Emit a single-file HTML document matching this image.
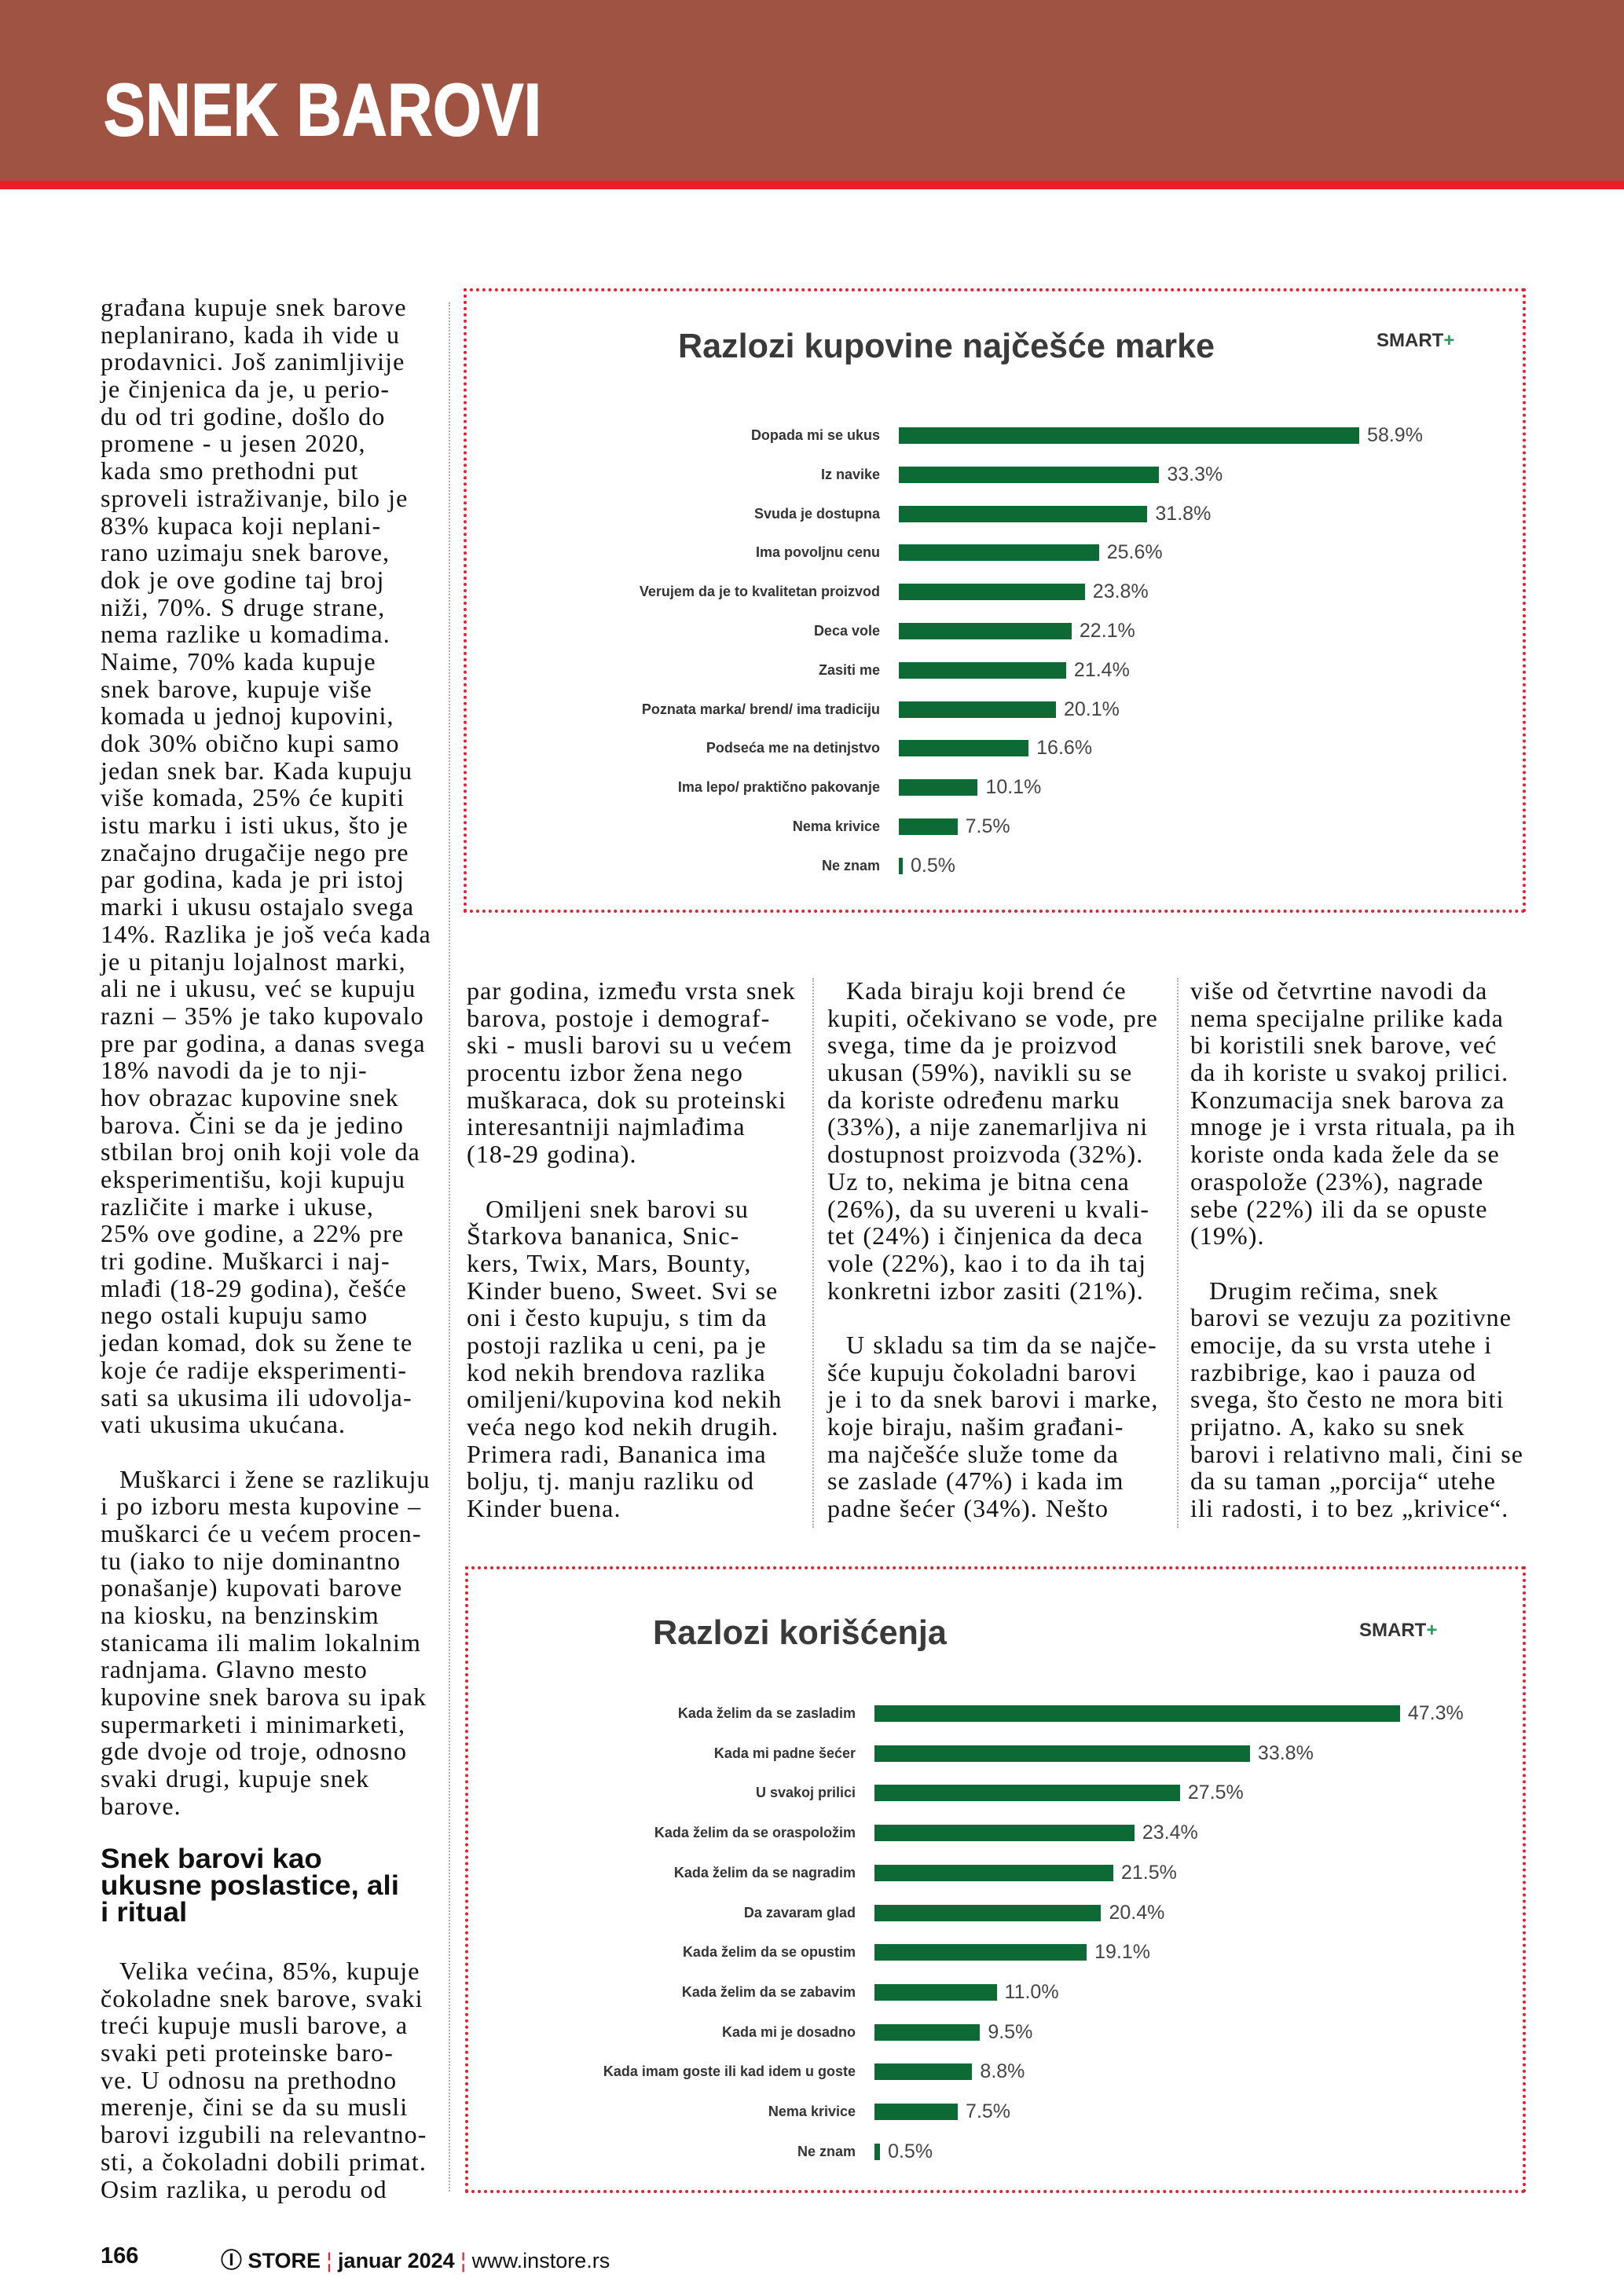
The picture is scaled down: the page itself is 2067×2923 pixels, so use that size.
<!DOCTYPE html>
<html><head><meta charset="utf-8">
<style>
*{margin:0;padding:0;box-sizing:border-box}
body{width:2067px;height:2923px;position:relative;background:#fff;overflow:hidden;font-family:"Liberation Serif",serif;color:#111}
.hdr{position:absolute;left:0;top:0;width:2067px;height:230px;background:#9e5343}
.red{position:absolute;left:0;top:230px;width:2067px;height:11px;background:#e8202a}
.title{position:absolute;left:132px;top:86px;font:bold 94px "Liberation Sans",sans-serif;color:#fff;transform:scaleX(0.84);transform-origin:left top;letter-spacing:1px;-webkit-text-stroke:2px #fff}
.col{position:absolute;font-size:32px;line-height:34.7px;white-space:nowrap;letter-spacing:1.1px;word-spacing:1px}
.col div{height:34.7px}
.ind{padding-left:24px}
.sep{position:absolute;border-left:2px dotted #aaa;width:0}
.box{position:absolute;border:4px dotted #e02030}
.ct{position:absolute;font:bold 44px "Liberation Sans",sans-serif;color:#3a3a3a;transform:scaleX(0.98);transform-origin:left top}
.smart{position:absolute;font:bold 24px "Liberation Sans",sans-serif;color:#333}
.smart span{color:#2a9a5a}
.lbl{position:absolute;font:bold 18px "Liberation Sans",sans-serif;color:#333;text-align:right;white-space:nowrap;line-height:22px}
.bar{position:absolute;height:21px;background:#0e6a34}
.val{position:absolute;font:25px "Liberation Sans",sans-serif;color:#444;line-height:22px;white-space:nowrap}
.h2{position:absolute;left:128px;top:2350px;font:bold 35px "Liberation Sans",sans-serif;line-height:34px;color:#111;transform:scaleX(1.05);transform-origin:left top}
.ft{position:absolute;top:2856px;font-family:"Liberation Sans",sans-serif;font-size:27px;white-space:nowrap}
</style></head><body>
<div class="hdr"></div><div class="red"></div>
<div class="title">SNEK BAROVI</div>

<div class="sep" style="left:571px;top:385px;height:2405px"></div>
<div class="sep" style="left:1034px;top:1245px;height:700px"></div>
<div class="sep" style="left:1498px;top:1245px;height:700px"></div>

<div class="col" style="left:128px;top:374px">
<div>građana kupuje snek barove</div><div>neplanirano, kada ih vide u</div><div>prodavnici. Još zanimljivije</div><div>je činjenica da je, u perio-</div><div>du od tri godine, došlo do</div><div>promene - u jesen 2020,</div><div>kada smo prethodni put</div><div>sproveli istraživanje, bilo je</div><div>83% kupaca koji neplani-</div><div>rano uzimaju snek barove,</div><div>dok je ove godine taj broj</div><div>niži, 70%. S druge strane,</div><div>nema razlike u komadima.</div><div>Naime, 70% kada kupuje</div><div>snek barove, kupuje više</div><div>komada u jednoj kupovini,</div><div>dok 30% obično kupi samo</div><div>jedan snek bar. Kada kupuju</div><div>više komada, 25% će kupiti</div><div>istu marku i isti ukus, što je</div><div>značajno drugačije nego pre</div><div>par godina, kada je pri istoj</div><div>marki i ukusu ostajalo svega</div><div>14%. Razlika je još veća kada</div><div>je u pitanju lojalnost marki,</div><div>ali ne i ukusu, već se kupuju</div><div>razni – 35% je tako kupovalo</div><div>pre par godina, a danas svega</div><div>18% navodi da je to nji-</div><div>hov obrazac kupovine snek</div><div>barova. Čini se da je jedino</div><div>stbilan broj onih koji vole da</div><div>eksperimentišu, koji kupuju</div><div>različite i marke i ukuse,</div><div>25% ove godine, a 22% pre</div><div>tri godine. Muškarci i naj-</div><div>mlađi (18-29 godina), češće</div><div>nego ostali kupuju samo</div><div>jedan komad, dok su žene te</div><div>koje će radije eksperimenti-</div><div>sati sa ukusima ili udovolja-</div><div>vati ukusima ukućana.</div><div></div>
<div class="ind">Muškarci i žene se razlikuju</div><div>i po izboru mesta kupovine –</div><div>muškarci će u većem procen-</div><div>tu (iako to nije dominantno</div><div>ponašanje) kupovati barove</div><div>na kiosku, na benzinskim</div><div>stanicama ili malim lokalnim</div><div>radnjama. Glavno mesto</div><div>kupovine snek barova su ipak</div><div>supermarketi i minimarketi,</div><div>gde dvoje od troje, odnosno</div><div>svaki drugi, kupuje snek</div><div>barove.</div>
</div>

<div class="h2">Snek barovi kao<br>ukusne poslastice, ali<br>i ritual</div>

<div class="col" style="left:128px;top:2492px">
<div class="ind">Velika većina, 85%, kupuje</div><div>čokoladne snek barove, svaki</div><div>treći kupuje musli barove, a</div><div>svaki peti proteinske baro-</div><div>ve. U odnosu na prethodno</div><div>merenje, čini se da su musli</div><div>barovi izgubili na relevantno-</div><div>sti, a čokoladni dobili primat.</div><div>Osim razlika, u perodu od</div>
</div>

<div class="col" style="left:594px;top:1244px">
<div>par godina, između vrsta snek</div><div>barova, postoje i demograf-</div><div>ski - musli barovi su u većem</div><div>procentu izbor žena nego</div><div>muškaraca, dok su proteinski</div><div>interesantniji najmlađima</div><div>(18-29 godina).</div><div></div>
<div class="ind">Omiljeni snek barovi su</div><div>Štarkova bananica, Snic-</div><div>kers, Twix, Mars, Bounty,</div><div>Kinder bueno, Sweet. Svi se</div><div>oni i često kupuju, s tim da</div><div>postoji razlika u ceni, pa je</div><div>kod nekih brendova razlika</div><div>omiljeni/kupovina kod nekih</div><div>veća nego kod nekih drugih.</div><div>Primera radi, Bananica ima</div><div>bolju, tj. manju razliku od</div><div>Kinder buena.</div>
</div>

<div class="col" style="left:1053px;top:1244px">
<div class="ind">Kada biraju koji brend će</div><div>kupiti, očekivano se vode, pre</div><div>svega, time da je proizvod</div><div>ukusan (59%), navikli su se</div><div>da koriste određenu marku</div><div>(33%), a nije zanemarljiva ni</div><div>dostupnost proizvoda (32%).</div><div>Uz to, nekima je bitna cena</div><div>(26%), da su uvereni u kvali-</div><div>tet (24%) i činjenica da deca</div><div>vole (22%), kao i to da ih taj</div><div>konkretni izbor zasiti (21%).</div><div></div>
<div class="ind">U skladu sa tim da se najče-</div><div>šće kupuju čokoladni barovi</div><div>je i to da snek barovi i marke,</div><div>koje biraju, našim građani-</div><div>ma najčešće služe tome da</div><div>se zaslade (47%) i kada im</div><div>padne šećer (34%). Nešto</div>
</div>

<div class="col" style="left:1515px;top:1244px">
<div>više od četvrtine navodi da</div><div>nema specijalne prilike kada</div><div>bi koristili snek barove, već</div><div>da ih koriste u svakoj prilici.</div><div>Konzumacija snek barova za</div><div>mnoge je i vrsta rituala, pa ih</div><div>koriste onda kada žele da se</div><div>oraspolože (23%), nagrade</div><div>sebe (22%) ili da se opuste</div><div>(19%).</div><div></div>
<div class="ind">Drugim rečima, snek</div><div>barovi se vezuju za pozitivne</div><div>emocije, da su vrsta utehe i</div><div>razbibrige, kao i pauza od</div><div>svega, što često ne mora biti</div><div>prijatno. A, kako su snek</div><div>barovi i relativno mali, čini se</div><div>da su taman „porcija“ utehe</div><div>ili radosti, i to bez „krivice“.</div>
</div>

<!-- Chart 1 -->
<div class="box" style="left:590px;top:367px;width:1352px;height:795px"></div>
<div class="ct" style="left:863px;top:416px">Razlozi kupovine najčešće marke</div>
<div class="smart" style="left:1752px;top:420px">SMART<span>+</span></div>

<!-- Chart 2 -->
<div class="box" style="left:592px;top:1994px;width:1350px;height:798px"></div>
<div class="ct" style="left:831px;top:2054px">Razlozi korišćenja</div>
<div class="smart" style="left:1730px;top:2062px">SMART<span>+</span></div>

<div id="c"></div>
<script>
function chart(labels,vals,left,labR,y0,dy,sc){
  var h='';
  for(var i=0;i<labels.length;i++){
    var y=y0+i*dy, w=Math.max(4,vals[i]*sc);
    h+='<div class="lbl" style="right:'+(2067-labR)+'px;top:'+(y-11)+'px">'+labels[i]+'</div>';
    h+='<div class="bar" style="left:'+left+'px;top:'+(y-10)+'px;width:'+w+'px"></div>';
    h+='<div class="val" style="left:'+(left+w+10)+'px;top:'+(y-11)+'px">'+vals[i].toFixed(1)+'%</div>';
  }
  return h;
}
var a=chart(["Dopada mi se ukus","Iz navike","Svuda je dostupna","Ima povoljnu cenu","Verujem da je to kvalitetan proizvod","Deca vole","Zasiti me","Poznata marka/ brend/ ima tradiciju","Podseća me na detinjstvo","Ima lepo/ praktično pakovanje","Nema krivice","Ne znam"],
[58.9,33.3,31.8,25.6,23.8,22.1,21.4,20.1,16.6,10.1,7.5,0.5],1144,1120,554,49.8,9.95);
var b=chart(["Kada želim da se zasladim","Kada mi padne šećer","U svakoj prilici","Kada želim da se oraspoložim","Kada želim da se nagradim","Da zavaram glad","Kada želim da se opustim","Kada želim da se zabavim","Kada mi je dosadno","Kada imam goste ili kad idem u goste","Nema krivice","Ne znam"],
[47.3,33.8,27.5,23.4,21.5,20.4,19.1,11.0,9.5,8.8,7.5,0.5],1113,1089,2181,50.7,14.14);
document.getElementById('c').innerHTML=a+b;
</script>

<div class="ft" style="left:128px;font-weight:bold;font-size:29px">166</div>
<div class="ft" style="left:281px;font-weight:bold">Ⓘ STORE <span style="color:#e02030;font-weight:normal">¦</span> januar 2024<span style="color:#e02030;font-weight:normal"> ¦</span> <span style="font-weight:normal">www.instore.rs</span></div>
</body></html>
